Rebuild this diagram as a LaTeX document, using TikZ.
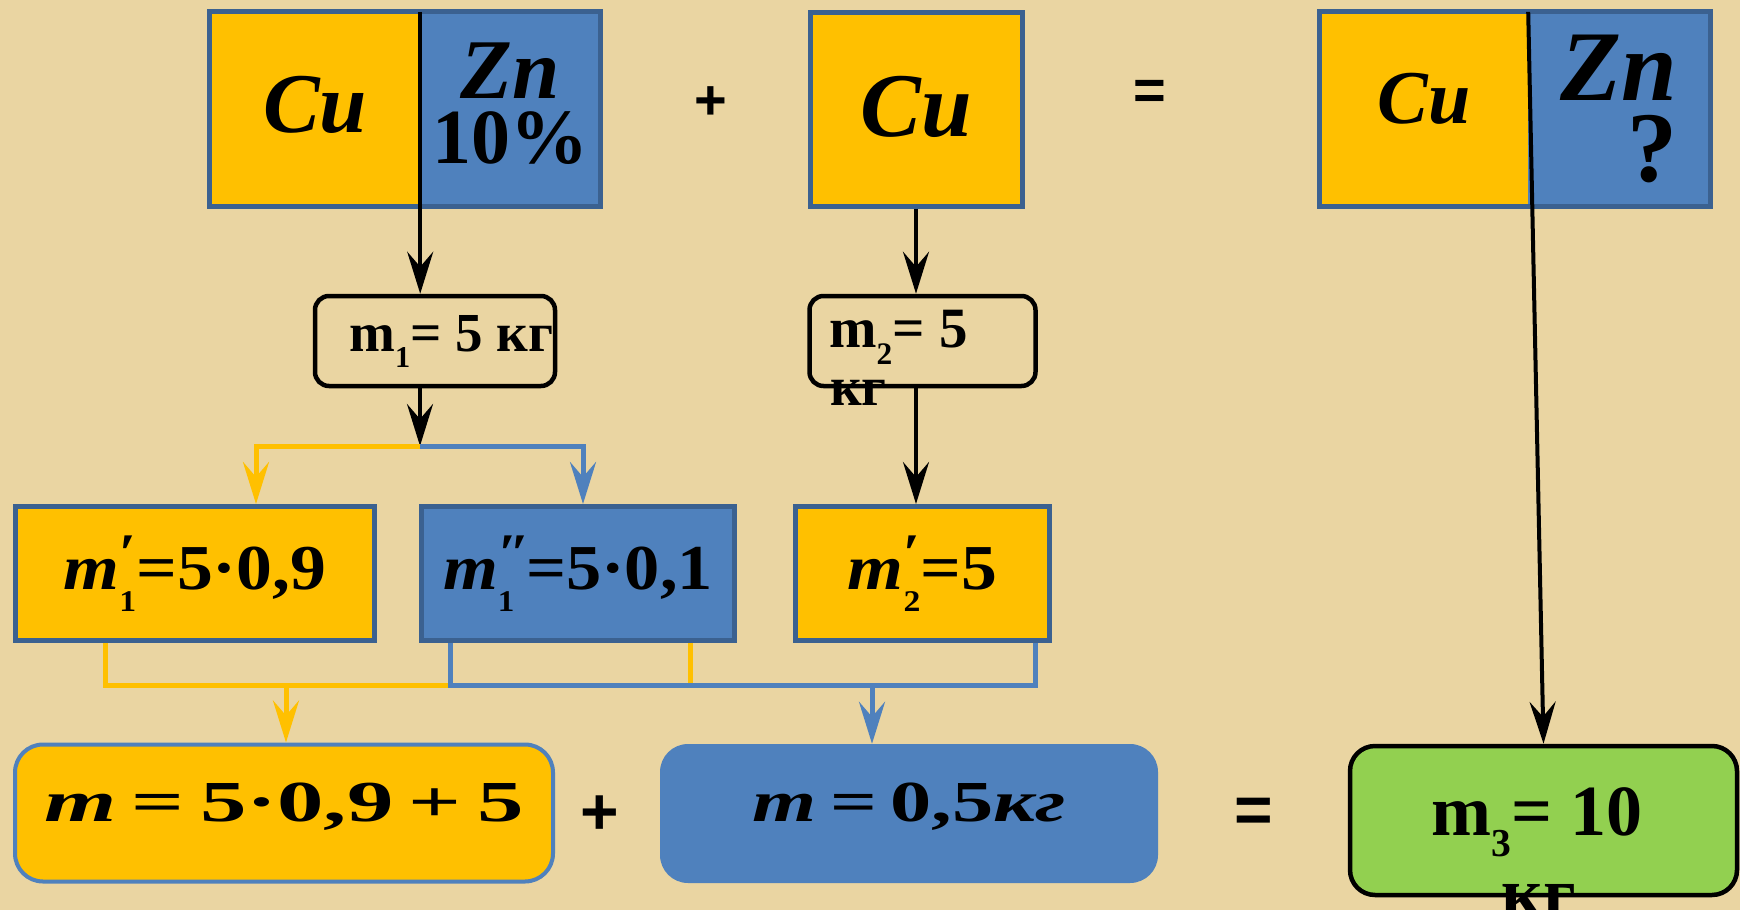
\documentclass[tikz,border=0pt]{standalone}
\usepackage{fontspec}
\setmainfont{Liberation Serif}
\newfontfamily\signfont{Liberation Sans}
\usepackage{graphicx}
\usetikzlibrary{arrows.meta, positioning, calc}

\definecolor{cuyellow}{HTML}{FFC000}
\definecolor{znblue}{HTML}{4F81BD}
\definecolor{frameblue}{HTML}{3B6190}
\definecolor{resgreen}{HTML}{92D050}
\definecolor{papyrus}{HTML}{EAD5A2}

\newcommand{\setfs}[1]{\fontsize{#1}{#1}\selectfont}
\newcommand{\sub}[1]{\raisebox{-0.3em}{\scalebox{0.55}{#1}}}
\newcommand{\mass}[2]{\textit{m}\rlap{\raisebox{0.28em}{\scalebox{0.85}{#1}}}\raisebox{-0.34em}{\scalebox{0.47}{#2}}}

\begin{document}
\begin{tikzpicture}[x=1pt, y=-1pt, inner sep=0pt,
    >={Stealth[length=42pt, width=26pt, inset=15pt]},
    half/.style={rectangle, minimum height=194pt},
    alloyframe/.style={draw=frameblue, line width=5pt},
    calcbox/.style={rectangle, draw=frameblue, line width=5pt, minimum height=134pt, font=\bfseries\setfs{64}},
    massbox/.style={rectangle, rounded corners=14pt, draw=black, line width=4.5pt, minimum height=90pt},
    sumbox/.style={rectangle, rounded corners=28pt, minimum height=137pt, font=\bfseries\setfs{58}},
    sign/.style={font=\signfont\bfseries\setfs{#1}},
    feed/.style={->, line width=4pt},
    cuwire/.style={draw=cuyellow, line width=5pt},
    znwire/.style={draw=znblue, line width=5pt}]

  \useasboundingbox (0,0) rectangle (1740,910);
  \clip (0,0) rectangle (1740,910);
  \fill[papyrus] (0,0) rectangle (1740,910);

  % top row
  \node[half, fill=cuyellow, minimum width=210pt, text depth=9pt, font=\bfseries\itshape\setfs{85}] (aCu) at (315,109) {Cu};
  \node[half, fill=znblue, minimum width=180pt, align=center, text depth=12pt,
        font=\bfseries\itshape\fontsize{85}{65}\selectfont] (aZn) at (510,109)
        {Zn\\{\upshape\fontsize{78}{65}\selectfont 10\%}};
  \draw[alloyframe] (aCu.north west) rectangle (aZn.south east);

  \node[sign=56] (plusTop) at (711,103) {+};

  \node[half, fill=cuyellow, draw=frameblue, line width=5pt, minimum width=212pt, text depth=5pt,
        font=\bfseries\itshape\setfs{91}] (bCu) at (916,109) {Cu};

  \node[sign=56] (eqTop) at (1150,95) {=};

  \node[half, fill=cuyellow, minimum width=208pt, text depth=22pt, font=\bfseries\itshape\setfs{76}] (cCu) at (1424,109) {Cu};
  \node[half, fill=znblue, minimum width=182pt, align=right,
        font=\bfseries\itshape\fontsize{100}{81}\selectfont] (cZn) at (1619,109)
        {Zn\\{\upshape ?}};
  \draw[alloyframe] (cCu.north west) rectangle (cZn.south east);

  % masses
  \node[massbox, minimum width=240pt] (m1) at (435,341) {};
  \node[anchor=base west, font=\bfseries\setfs{55}] (m1txt) at (349,351) {m\sub{1}= 5 кг};
  \node[massbox, minimum width=226pt] (m2) at (922.5,341) {};
  \node[anchor=base west, font=\bfseries\setfs{57}] (m2txt) at (829,347) {m\sub{2}= 5};
  \node[anchor=base west, font=\bfseries\setfs{55}] (m2unit) at (830,405) {кг};

  \node[calcbox, fill=cuyellow, minimum width=359pt] (m1p) at (195,573.5)
        {\scalebox{1.12}[1]{\mass{′}{1}=5·0,9}};
  \node[calcbox, fill=znblue, minimum width=313pt] (m1pp) at (578,573.5)
        {\scalebox{1.1}[1]{\mass{″}{1}\,=5·0,1}};
  \node[calcbox, fill=cuyellow, minimum width=254pt] (m2p) at (922.5,573.5)
        {\scalebox{1.12}[1]{\mass{′}{2}=5}};

  % bottom row
  \node[sumbox, fill=cuyellow, draw=znblue, line width=4pt, minimum width=538pt, text depth=22pt] (sumCu) at (284,813)
        {\scalebox{1.6}[1]{\textit{m}\,=\,5·0,9\,+\,5}};
  \node[sign=66] (plusBot) at (600,815) {+};
  \node[sumbox, fill=znblue, minimum width=498pt, minimum height=139pt, text depth=22pt] (sumZn) at (909,813.5)
        {\scalebox{1.42}[1]{\textit{m}\,=\,0,5\textit{кг}}};
  \node[sign=66] (eqBot) at (1254,815) {=};
  \node[sumbox, fill=resgreen, draw=black, line width=4.5pt, rounded corners=25pt,
        minimum width=387pt, minimum height=149pt] (m3) at (1543.5,820.5) {};
  \node[anchor=base, font=\bfseries\setfs{72}] (m3txt) at (1537,835) {m\sub{3}= 10};
  \node[anchor=base, font=\bfseries\setfs{72}] (m3unit) at (1539,917) {кг};

  % connectors
  \coordinate (fork) at (420,446);
  \coordinate (jy) at (286,685);
  \coordinate (jb) at (872,685);

  \draw[feed] (aCu.north east) -- (aCu.north east |- m1.north);
  \draw[feed] (fork |- m1.south) -- (fork);
  \draw[cuwire, ->] (fork) -| ([xshift=61pt]m1p.north);
  \draw[znwire, ->] (fork) -| ([xshift=5pt]m1pp.north);

  \draw[feed] (bCu.south) -- (bCu.south |- m2.north);
  \draw[feed] (bCu.south |- m2.south) -- (bCu.south |- m2p.north);

  \draw[cuwire] ([xshift=-90pt]m1p.south) |- ([xshift=-128pt]m1pp.south |- jy);
  \draw[cuwire] ([xshift=112pt]m1pp.south) -- ([xshift=112pt]m1pp.south |- jy);
  \draw[znwire] ([xshift=-128pt]m1pp.south) |- ([xshift=113pt]m2p.south |- jb) -- ([xshift=113pt]m2p.south);
  \draw[cuwire, ->] (jy) -- (jy |- sumCu.north);
  \draw[znwire, ->] (jb) -- (jb |- sumZn.north);

  \draw[feed] (cCu.north east) -- (m3.north);
\end{tikzpicture}
\end{document}
